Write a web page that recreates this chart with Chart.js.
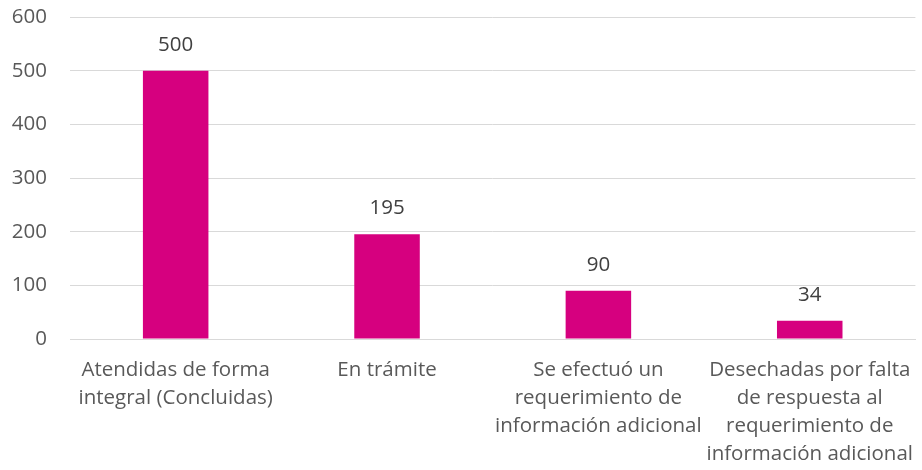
<!DOCTYPE html>
<html>
<head>
<meta charset="utf-8">
<script src="https://cdn.jsdelivr.net/npm/chart.js@4/dist/chart.umd.min.js"></script>
<style>
html,body{margin:0;padding:0;background:#fff;}
#wrap{width:922px;height:470px;position:relative;}
</style>
</head>
<body>
<div id="wrap"><canvas id="c"></canvas></div>
<script>
const categories = [
  ["Atendidas de forma", "integral (Concluidas)"],
  ["En trámite"],
  ["Se efectuó un", "requerimiento de", "información adicional"],
  ["Desechadas por falta", "de respuesta al", "requerimiento de", "información adicional"]
];
const values = [500, 195, 90, 34];
const yTicks = [0, 100, 200, 300, 400, 500, 600];

const FONT = "'Open Sans', sans-serif";
const TEXT = "#595959";

const dataLabels = {
  id: "dataLabels",
  afterDatasetsDraw(chart) {
    const ctx = chart.ctx;
    const meta = chart.getDatasetMeta(0);
    ctx.save();
    ctx.font = "20.5px " + FONT;
    ctx.fillStyle = "#404040";
    ctx.textAlign = "center";
    ctx.textBaseline = "middle";
    meta.data.forEach((bar, i) => {
      ctx.fillText(String(values[i]), bar.x, bar.y - 26);
    });
    ctx.restore();
  }
};

new Chart(document.getElementById("c"), {
  type: "bar",
  data: {
    labels: categories,
    datasets: [{
      data: values,
      backgroundColor: "#D6007F",
      categoryPercentage: 1,
      barPercentage: 0.31
    }]
  },
  options: {
    responsive: true,
    maintainAspectRatio: false,
    animation: false,
    layout: { padding: { top: 0, right: 0, left: 0, bottom: 0 } },
    plugins: { legend: { display: false }, tooltip: { enabled: false } },
    scales: {
      x: {
        grid: { display: false },
        border: { display: true, color: "#D9D9D9", width: 1 },
        afterFit(axis) { axis.height = 131; axis.paddingTop = 0; axis.paddingBottom = 0; },
        ticks: {
          color: TEXT,
          font: { family: FONT, size: 20.5, lineHeight: 1.37 },
          autoSkip: false,
          maxRotation: 0,
          minRotation: 0,
          padding: 9
        }
      },
      y: {
        min: 0,
        max: 600,
        afterBuildTicks(axis) { axis.ticks = yTicks.map(v => ({ value: v })); },
        afterFit(axis) { axis.width = 70; axis.paddingTop = 17; axis.paddingBottom = 0; },
        grid: { color: "#D9D9D9", lineWidth: 1, drawTicks: false },
        border: { display: false },
        ticks: {
          color: TEXT,
          font: { family: FONT, size: 20.5 },
          padding: 23
        }
      }
    }
  },
  plugins: [dataLabels]
});
</script>
</body>
</html>
